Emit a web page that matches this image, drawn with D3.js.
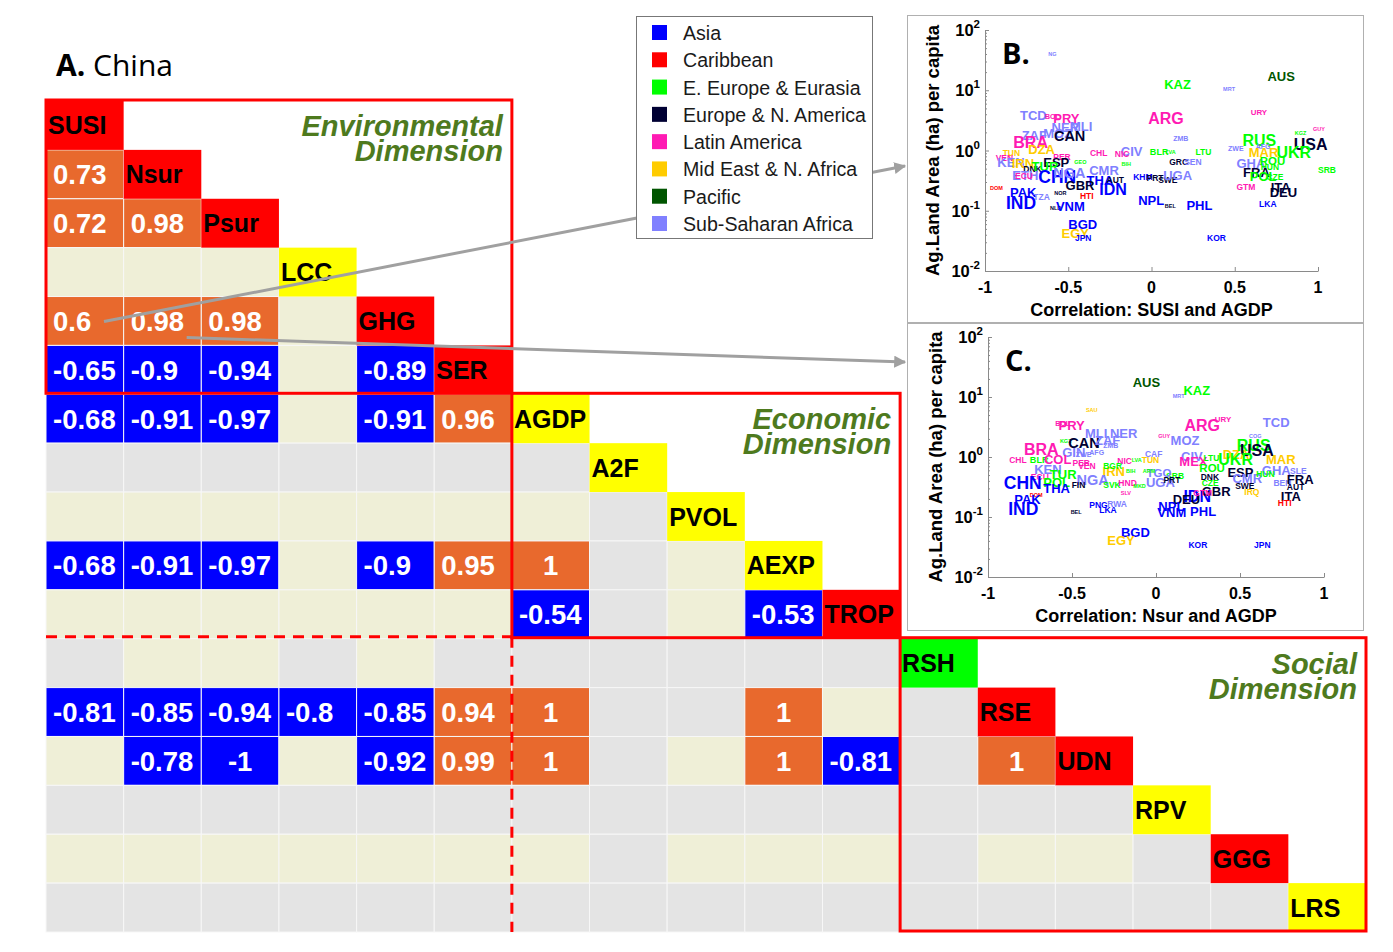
<!DOCTYPE html>
<html>
<head>
<meta charset="utf-8">
<title>China indicator correlations</title>
<script src="https://cdn.jsdelivr.net/npm/d3@7"></script>
<style>
  body { margin: 0; background: #fff; }
  svg text { font-family: "Liberation Sans", Arial, sans-serif; }
</style>
</head>
<body>
<svg id="chart" width="1393" height="952"></svg>
<script>
// indicators in matrix order
const indicators = ["SUSI","Nsur","Psur","LCC","GHG","SER","AGDP","A2F","PVOL","AEXP","TROP","RSH","RSE","UDN","RPV","GGG","LRS"];
// indicator status shown on the diagonal: R red, Y yellow, G green
const status = ["R","R","R","Y","R","R","Y","Y","Y","Y","R","G","R","R","Y","R","Y"];
// lower triangle row by row: number = correlation, "ns" = not significant, "na" = no data
const corr = [
  [],
  [0.73],
  [0.72, 0.98],
  ["ns","ns","ns"],
  [0.6, 0.98, 0.98, "ns"],
  [-0.65, -0.9, -0.94, "ns", -0.89],
  [-0.68, -0.91, -0.97, "ns", -0.91, 0.96],
  ["na","na","na","na","na","na","na"],
  ["ns","ns","ns","ns","ns","ns","ns","na"],
  [-0.68, -0.91, -0.97, "ns", -0.9, 0.95, 1, "na", "ns"],
  ["ns","ns","ns","ns","ns","ns", -0.54, "na", "ns", -0.53],
  ["na","ns","ns","na","ns","na","na","na","na","na","na"],
  [-0.81, -0.85, -0.94, -0.8, -0.85, 0.94, 1, "na", "na", 1, "ns", "na"],
  ["ns", -0.78, -1, "ns", -0.92, 0.99, 1, "na", "ns", 1, -0.81, "na", 1],
  ["na","na","na","na","na","na","na","na","na","na","na","na","na","na"],
  ["ns","ns","ns","ns","ns","ns","ns","na","ns","ns","ns","na","ns","ns","na"],
  ["na","na","na","na","na","na","na","na","na","na","na","na","na","na","na","na"]
];
// dimensions: first and last indicator
const dimensions = [
  { name: ["Environmental", "Dimension"], from: "SUSI", to: "SER" },
  { name: ["Economic", "Dimension"], from: "AGDP", to: "TROP" },
  { name: ["Social", "Dimension"], from: "RSH", to: "LRS" }
];

// legend regions
const regions = ["Asia","Caribbean","E. Europe & Eurasia","Europe & N. America","Latin America","Mid East & N. Africa","Pacific","Sub-Saharan Africa"];
const regionColors = ["#0000ff","#ff0000","#00ff00","#000033","#ff1ab3","#ffcc00","#005500","#8080ff"];

// countries: code, region index, relative label size (1 small .. 5 large)
const countries = [
  ["AUS",6,3.5],["KAZ",2,3.5],["MRT",7,1],["NG",7,1],["TCD",7,3.5],["BOL",4,1.5],["PRY",4,3.5],
  ["NER",7,3.5],["MLI",7,3.5],["ZAF",7,3.5],["MOZ",7,3.5],["CAN",3,4],["BRA",4,4.5],["DZA",5,3.5],
  ["ARG",4,4.5],["ZMB",7,1.5],["URY",4,1.8],["GUY",4,1],["KGZ",2,1],["USA",3,4.5],["RUS",2,4.5],
  ["AFG",7,1.5],["UKR",2,4.5],["MAR",5,3.5],["ZWE",7,1.5],["LTU",2,2],["BLR",2,2.2],["LVA",2,1],
  ["CIV",7,3.5],["CHL",4,2],["NIC",4,2],["GEO",2,1],["TUN",5,2],["VEN",4,2],["KEN",7,3.5],
  ["IRN",5,3.5],["PER",4,2],["ESP",3,3.5],["GRC",3,2],["SEN",7,2],["BIH",2,1],["GHA",7,3.5],
  ["ROU",2,3],["HUN",2,2],["SRB",2,2],["FRA",3,3.5],["POL",2,3.5],["CZE",2,2],["DNK",3,2],
  ["TUR",2,3.5],["ETH",7,3.5],["ECU",4,2],["CHN",0,5],["NGA",7,4],["CMR",7,3.5],["THA",0,3.5],
  ["AUT",3,2],["KHM",0,2],["PRT",3,2],["SWE",3,2],["UGA",7,3.5],["GBR",3,3.5],["IDN",0,4.5],
  ["DOM",1,1],["PAK",0,3.5],["IND",0,5],["TZA",7,2],["NOR",3,1],["HTI",1,2],["NLD",3,1],
  ["VNM",0,3.5],["NPL",0,3.5],["BEL",3,1],["PHL",0,3.5],["GTM",4,2],["ITA",3,3.5],["DEU",3,3.5],
  ["LKA",0,2],["BGD",0,3.5],["EGY",5,3.5],["JPN",0,2],["KOR",0,2],["SAU",5,1],["COG",7,1],
  ["GIN",7,3.5],["CAF",7,2],["COL",4,3.5],["MEX",4,3.5],["SLE",7,2],["BEN",7,2],["IRQ",5,2],
  ["TGO",7,3],["ARM",2,1],["BGR",2,2],["FIN",3,2],["SVK",2,2],["HND",4,2],["MKD",2,1],
  ["SLV",4,1],["PNG",0,2],["RWA",7,2]
];

// panel B: code, correlation SUSI-AGDP, log10 ag. land area (ha) per capita
const susiPts = [
  ["NG",-0.62,1.60],["KAZ",0.076,1.097],["AUS",0.696,1.235],["MRT",0.43,1.014],["TCD",-0.79,0.587],
  ["BOL",-0.64,0.56],["PRY",-0.59,0.532],["NER",-0.60,0.388],["MLI",-0.49,0.404],["ZAF",-0.78,0.255],
  ["MOZ",-0.65,0.277],["CAN",-0.586,0.238],["BRA",-0.83,0.127],["DZA",-0.74,0.017],["ARG",-0.02,0.532],
  ["ZMB",0.13,0.2],["URY",0.596,0.626],["GUY",0.97,0.349],["KGZ",0.86,0.283],["USA",0.854,0.1],
  ["RUS",0.546,0.166],["AFG",0.626,0.072],["UKR",0.75,-0.039],["MAR",0.584,-0.039],["ZWE",0.46,0.033],
  ["LTU",0.264,-0.022],["BLR",-0.01,-0.028],["LVA",0.084,-0.033],["CIV",-0.184,-0.022],["CHL",-0.37,-0.044],
  ["NIC",-0.22,-0.055],["GEO",-0.464,-0.188],["TUN",-0.894,-0.039],["VEN",-0.936,-0.122],["KEN",-0.926,-0.205],
  ["IRN",-0.84,-0.222],["PER",-0.59,-0.111],["ESP",-0.65,-0.194],["GRC",0.106,-0.194],["SEN",0.196,-0.183],
  ["BIH",-0.18,-0.222],["GHA",0.51,-0.216],["ROU",0.65,-0.177],["HUN",0.656,-0.277],["SRB",1.0,-0.316],
  ["FRA",0.55,-0.371],["POL",0.59,-0.438],["CZE",0.69,-0.443],["DNK",-0.77,-0.3],["TUR",-0.72,-0.26],
  ["ETH",-0.836,-0.416],["ECU",-0.82,-0.427],["CHN",-0.68,-0.443],["NGA",-0.59,-0.371],["CMR",-0.374,-0.332],
  ["THA",-0.39,-0.493],["AUT",-0.27,-0.482],["KHM",-0.11,-0.438],["PRT",-0.03,-0.454],["SWE",0.04,-0.493],
  ["UGA",0.07,-0.41],["GBR",-0.516,-0.576],["IDN",-0.314,-0.648],["DOM",-0.97,-0.62],["PAK",-0.85,-0.693],
  ["IND",-0.874,-0.87],["TZA",-0.71,-0.776],["NOR",-0.584,-0.704],["HTI",-0.43,-0.748],["NLD",-0.61,-0.953],
  ["VNM",-0.574,-0.925],["NPL",-0.08,-0.831],["BEL",0.08,-0.925],["PHL",0.21,-0.909],["GTM",0.51,-0.604],
  ["ITA",0.716,-0.62],["DEU",0.71,-0.704],["LKA",0.646,-0.881],["BGD",-0.5,-1.23],["EGY",-0.54,-1.385],
  ["JPN",-0.46,-1.45],["KOR",0.334,-1.45]
];

// panel C: code, correlation Nsur-AGDP, log10 ag. land area (ha) per capita
const nsurPts = [
  ["AUS",-0.139,1.244],["MRT",0.099,1.022],["KAZ",0.163,1.106],["SAU",-0.417,0.778],["BOL",-0.60,0.556],
  ["PRY",-0.58,0.522],["ARG",0.169,0.533],["URY",0.35,0.622],["TCD",0.636,0.583],["MLI",-0.423,0.4],
  ["NER",-0.274,0.389],["GUY",0.014,0.344],["COG",0.554,0.356],["KGZ",-0.572,0.272],["CAN",-0.522,0.233],
  ["ZAF",-0.363,0.278],["ZMB",-0.314,0.2],["MOZ",0.087,0.278],["BRA",-0.786,0.122],["GIN",-0.558,0.083],
  ["AFG",-0.397,0.078],["ZWE",-0.477,0.039],["CAF",-0.066,0.05],["CHL",-0.874,-0.044],["BLR",-0.751,-0.044],
  ["COL",-0.667,-0.044],["CZE",0.272,-0.433],["KEN",-0.725,-0.2],["PER",-0.497,-0.1],["VEN",-0.463,-0.156],
  ["NIC",-0.23,-0.072],["LVA",-0.145,-0.044],["TUN",-0.085,-0.044],["CIV",0.149,0.011],["MEX",0.139,-0.072],
  ["LTU",0.282,-0.017],["DZA",0.397,0.039],["RUS",0.481,0.189],["USA",0.5,0.106],["MAR",0.655,-0.044],
  ["UKR",0.371,-0.044],["ROU",0.258,-0.183],["ESP",0.425,-0.256],["GHA",0.63,-0.222],["SLE",0.798,-0.239],
  ["BEN",0.699,-0.433],["FRA",0.779,-0.378],["AUT",0.779,-0.5],["CMR",0.455,-0.35],["HUN",0.596,-0.278],
  ["SWE",0.471,-0.489],["IRQ",0.526,-0.589],["ITA",0.743,-0.656],["HTI",0.725,-0.767],["DNK",0.266,-0.333],
  ["SRB",0.06,-0.311],["TGO",-0.056,-0.267],["ARM",-0.079,-0.239],["BIH",-0.179,-0.239],["IRN",-0.318,-0.239],
  ["BGR",-0.314,-0.156],["TUR",-0.632,-0.294],["ECU",-0.745,-0.333],["CHN",-0.906,-0.433],["POL",-0.671,-0.433],
  ["THA",-0.671,-0.517],["NGA",-0.473,-0.378],["FIN",-0.502,-0.461],["SVK",-0.314,-0.461],["HND",-0.224,-0.433],
  ["MKD",-0.135,-0.489],["UGA",-0.06,-0.417],["PRT",0.044,-0.378],["SLV",-0.21,-0.6],["DOM",-0.751,-0.628],
  ["PAK",-0.844,-0.711],["IND",-0.88,-0.867],["BEL",-0.508,-0.922],["PNG",-0.397,-0.806],["RWA",-0.29,-0.778],
  ["LKA",-0.338,-0.889],["IDN",0.163,-0.656],["DEU",0.099,-0.7],["GBR",0.272,-0.572],["GTM",0.222,-0.6],
  ["NPL",0.014,-0.833],["VNM",0.008,-0.922],["PHL",0.203,-0.906],["BGD",-0.209,-1.25],["EGY",-0.29,-1.389],
  ["KOR",0.193,-1.467],["JPN",0.584,-1.467]
];

const svg = d3.select("#chart");
const countryInfo = new Map(countries.map(d => [d[0], { region: d[1], size: d[2] }]));

// ---------- A. correlation matrix ----------
const x = d3.scaleBand().domain(indicators).range([46, 1366]);
const y = d3.scaleBand().domain(indicators).range([101, 932]);
const statusColor = d3.scaleOrdinal().domain(["R","Y","G"]).range(["#ff0000","#ffff00","#00ff00"]);

const cells = [];
corr.forEach((row, i) => row.forEach((v, j) => cells.push({ row: indicators[i], col: indicators[j], v })));

function cellFill(v) {
  if (v === "ns") return "#efefd7";
  if (v === "na") return "#e4e4e4";
  return v > 0 ? "#e8692d" : "#0000ff";
}

const matrix = svg.append("g");
matrix.selectAll("rect.cell")
  .data(cells)
  .enter()
  .append("rect")
  .attr("class", "cell")
  .attr("x", d => x(d.col))
  .attr("y", d => y(d.row))
  .attr("width", x.bandwidth())
  .attr("height", y.bandwidth())
  .attr("fill", d => cellFill(d.v))
  .attr("stroke", "#f7f7f7")
  .attr("stroke-width", 1);

matrix.selectAll("text.val")
  .data(cells.filter(d => typeof d.v === "number"))
  .enter()
  .append("text")
  .attr("class", "val")
  .attr("x", d => Number.isInteger(d.v) ? x(d.col) + x.bandwidth() / 2 : x(d.col) + 7)
  .attr("y", d => y(d.row) + y.bandwidth() / 2 + 10)
  .attr("text-anchor", d => Number.isInteger(d.v) ? "middle" : "start")
  .attr("fill", "#fff")
  .style("font-size", "27.5px")
  .style("font-weight", "bold")
  .text(d => String(d.v));

// diagonal
matrix.selectAll("rect.diag")
  .data(indicators)
  .enter()
  .append("rect")
  .attr("class", "diag")
  .attr("x", d => x(d))
  .attr("y", d => y(d))
  .attr("width", x.bandwidth())
  .attr("height", y.bandwidth())
  .attr("fill", (d, i) => statusColor(status[i]));

matrix.selectAll("text.diag")
  .data(indicators)
  .enter()
  .append("text")
  .attr("class", "diag")
  .attr("x", d => x(d) + 2)
  .attr("y", d => y(d) + y.bandwidth() / 2 + 9)
  .attr("fill", "#000")
  .style("font-size", "25px")
  .style("font-weight", "bold")
  .text(d => d);

// dimension boxes and labels
dimensions.forEach(dim => {
  const x0 = x(dim.from), x1 = x(dim.to) + x.bandwidth();
  const y0 = y(dim.from), y1 = y(dim.to) + y.bandwidth();
  matrix.append("rect")
    .attr("x", x0).attr("y", y0 - 1)
    .attr("width", x1 - x0).attr("height", y1 - y0)
    .attr("fill", "none")
    .attr("stroke", "#ff0000")
    .attr("stroke-width", 3);
  dim.name.forEach((t, k) => {
    matrix.append("text")
      .attr("x", x1 - 9)
      .attr("y", y0 + 35 + k * 25)
      .attr("text-anchor", "end")
      .attr("fill", "#4e7a1e")
      .style("font-size", "29px")
      .style("font-weight", "bold")
      .style("font-style", "italic")
      .text(t);
  });
});

// dashed separators for the social block
const dashX = x("AGDP"), dashY = y("RSH") - 2;
matrix.append("line")
  .attr("x1", x("SUSI")).attr("x2", dashX)
  .attr("y1", dashY).attr("y2", dashY)
  .attr("stroke", "#ff0000").attr("stroke-width", 3).attr("stroke-dasharray", "11,8");
matrix.append("line")
  .attr("x1", dashX).attr("x2", dashX)
  .attr("y1", dashY).attr("y2", y("LRS") + y.bandwidth())
  .attr("stroke", "#ff0000").attr("stroke-width", 3).attr("stroke-dasharray", "11,8");

// title
const title = svg.append("text")
  .attr("x", 56).attr("y", 76)
  .style("font-family", "'Open Sans', sans-serif")
  .style("font-size", "30px")
  .attr("fill", "#000");
title.append("tspan").style("font-weight", "bold").text("A.");
title.append("tspan").text(" China");

// ---------- connector arrows ----------
svg.append("defs").append("marker")
  .attr("id", "arrow")
  .attr("viewBox", "0 0 10 10")
  .attr("refX", 9).attr("refY", 5)
  .attr("markerWidth", 4).attr("markerHeight", 4)
  .attr("orient", "auto")
  .append("path").attr("d", "M0,0L10,5L0,10z").attr("fill", "#a0a0a0");

const susiCell = [x("SUSI") + 58, y("GHG") + 25];
const nsurCell = [x("Nsur") + 63, y("GHG") + 41];
svg.append("line")
  .attr("x1", susiCell[0]).attr("y1", susiCell[1])
  .attr("x2", 905).attr("y2", 166)
  .attr("stroke", "#a0a0a0").attr("stroke-width", 3).attr("marker-end", "url(#arrow)");
svg.append("line")
  .attr("x1", nsurCell[0]).attr("y1", nsurCell[1])
  .attr("x2", 905).attr("y2", 362)
  .attr("stroke", "#a0a0a0").attr("stroke-width", 3).attr("marker-end", "url(#arrow)");

// ---------- legend ----------
const legend = svg.append("g");
legend.append("rect")
  .attr("x", 636.5).attr("y", 16.5).attr("width", 236).attr("height", 222)
  .attr("fill", "#fff").attr("stroke", "#777").attr("stroke-width", 1);
const ly = d3.scalePoint().domain(regions).range([33, 224]);
legend.selectAll("rect.sw")
  .data(regions)
  .enter()
  .append("rect")
  .attr("class", "sw")
  .attr("x", 652).attr("y", d => ly(d) - 8)
  .attr("width", 15).attr("height", 15)
  .attr("fill", (d, i) => regionColors[i]);
legend.selectAll("text")
  .data(regions)
  .enter()
  .append("text")
  .attr("x", 683).attr("y", d => ly(d) + 7)
  .attr("fill", "#1a1a1a")
  .style("font-size", "19.6px")
  .text(d => d);

// ---------- scatter panels ----------
const labelSize = d3.scaleLinear().domain([1, 5]).range([5.5, 17.5]);

function scatter(pts, frame, xr, yr, letter, xlabel) {
  const g = svg.append("g");
  g.append("rect")
    .attr("x", frame[0] + 0.5).attr("y", frame[1] + 0.5)
    .attr("width", frame[2]).attr("height", frame[3])
    .attr("fill", "#fff").attr("stroke", "#b0b0b0");

  const sx = d3.scaleLinear().domain([-1, 1]).range(xr);
  const sy = d3.scaleLog().domain([0.01, 100]).range(yr);

  const xAxis = g.append("g")
    .attr("transform", `translate(0,${yr[0]})`)
    .call(d3.axisBottom(sx).tickValues([-1, -0.5, 0, 0.5, 1]).tickSizeInner(-4).tickSizeOuter(0).tickFormat(""));
  const minor = [];
  [-2, -1, 0, 1].forEach(k => d3.range(2, 10).forEach(m => minor.push(m * Math.pow(10, k))));
  const yMinor = g.append("g")
    .attr("transform", `translate(${xr[0]},0)`)
    .call(d3.axisLeft(sy).tickValues(minor).tickSizeInner(-2).tickSizeOuter(0).tickFormat(""));
  const yAxis = g.append("g")
    .attr("transform", `translate(${xr[0]},0)`)
    .call(d3.axisLeft(sy).tickValues([0.01, 0.1, 1, 10, 100]).tickSizeInner(-4).tickSizeOuter(0).tickFormat(""));
  [xAxis, yMinor, yAxis].forEach(a => {
    a.selectAll("path,line").attr("stroke", "#8a8a8a");
  });

  g.selectAll("text.xt")
    .data([-1, -0.5, 0, 0.5, 1])
    .enter()
    .append("text")
    .attr("x", d => sx(d)).attr("y", yr[0] + 22)
    .attr("text-anchor", "middle")
    .style("font-size", "16px").style("font-weight", "bold")
    .text(d => String(d));

  const yt = g.selectAll("text.yt")
    .data([-2, -1, 0, 1, 2])
    .enter()
    .append("text")
    .attr("x", xr[0] - 5).attr("y", d => sy(Math.pow(10, d)) + 6)
    .attr("text-anchor", "end")
    .style("font-size", "16.5px").style("font-weight", "bold");
  yt.append("tspan").text("10");
  yt.append("tspan").attr("dy", -8).style("font-size", "11.5px").text(d => String(d));

  g.append("text")
    .attr("transform", `translate(${xr[0] - 46},${(yr[0] + yr[1]) / 2}) rotate(-90)`)
    .attr("text-anchor", "middle")
    .style("font-size", "18.5px").style("font-weight", "bold")
    .text("Ag.Land Area (ha) per capita");
  g.append("text")
    .attr("x", (xr[0] + xr[1]) / 2).attr("y", yr[0] + 45)
    .attr("text-anchor", "middle")
    .style("font-size", "18px").style("font-weight", "bold")
    .text(xlabel);
  g.append("text")
    .attr("x", xr[0] + 17).attr("y", yr[1] + 34)
    .style("font-family", "'Open Sans', sans-serif")
    .style("font-size", "29px").style("font-weight", "bold")
    .text(letter);

  g.selectAll("text.cty")
    .data(pts)
    .enter()
    .append("text")
    .attr("class", "cty")
    .attr("x", d => sx(d[1]))
    .attr("y", d => sy(Math.pow(10, d[2])))
    .attr("dominant-baseline", "central")
    .attr("fill", d => regionColors[countryInfo.get(d[0]).region])
    .style("font-size", d => labelSize(countryInfo.get(d[0]).size) + "px")
    .style("font-weight", "bold")
    .text(d => d[0]);
}

scatter(susiPts, [907, 15, 456, 307], [985, 1318], [271, 30], "B.", "Correlation: SUSI and AGDP");
scatter(nsurPts, [907, 323, 456, 307], [988, 1324], [577, 337], "C.", "Correlation: Nsur and AGDP");
</script>
</body>
</html>
